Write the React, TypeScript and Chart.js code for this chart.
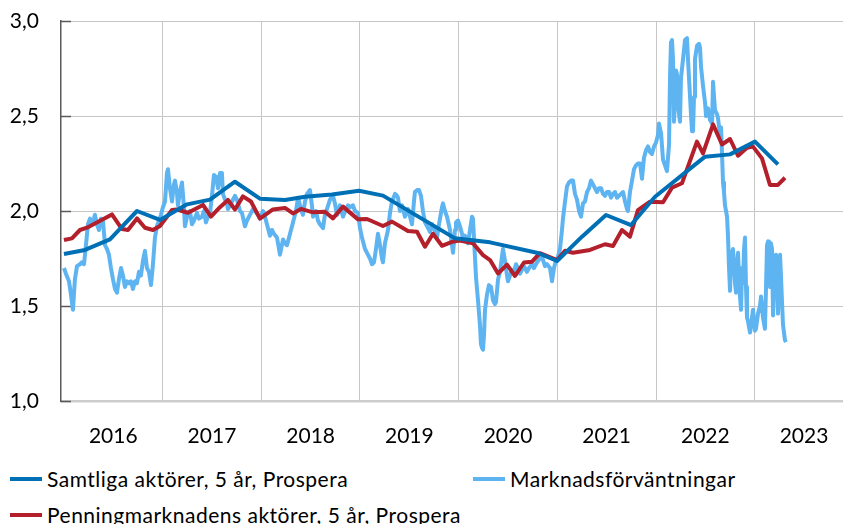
import { useEffect, useRef } from "react";
import { Chart, registerables } from "chart.js";

Chart.register(...registerables);

const FONT = "Lato, 'Open Sans', sans-serif";

// Axis definitions
const xMin = 2015.97;
const xMax = 2023.895;
const yearGridLines = [2017, 2018, 2019, 2020, 2021, 2022, 2023];
const yearLabelPositions = [2016.5, 2017.5, 2018.5, 2019.5, 2020.5, 2021.5, 2022.5, 2023.5];
const yearLabels = ["2016", "2017", "2018", "2019", "2020", "2021", "2022", "2023"];
const yTickValues = [1.0, 1.5, 2.0, 2.5, 3.0];

const seriesNames = [
  "Samtliga aktörer, 5 år, Prospera",
  "Marknadsförväntningar",
  "Penningmarknadens aktörer, 5 år, Prospera",
];
const seriesColors = ["#0070b6", "#5db4f0", "#b41f2c"];

// Samtliga aktörer, 5 år, Prospera  [decimal year, value]
const samtliga: [number, number][] = [
  [2016.0, 1.774], [2016.213, 1.795], [2016.466, 1.851], [2016.74, 2.0], [2016.973, 1.953],
  [2017.247, 2.035], [2017.48, 2.06], [2017.733, 2.154], [2017.986, 2.065],
  [2018.24, 2.058], [2018.443, 2.075], [2018.716, 2.087], [2018.99, 2.107],
  [2019.233, 2.081], [2019.963, 1.856], [2020.318, 1.835], [2020.804, 1.779], [2020.997, 1.737],
  [2021.25, 1.865], [2021.493, 1.979], [2021.747, 1.926], [2021.99, 2.075],
  [2022.497, 2.286], [2022.75, 2.298], [2023.003, 2.365], [2023.236, 2.245],
];

// Penningmarknadens aktörer, 5 år, Prospera
const penning: [number, number][] = [
  [2016.0, 1.847], [2016.081, 1.856], [2016.162, 1.9], [2016.233, 1.912], [2016.486, 1.982],
  [2016.588, 1.905], [2016.649, 1.9], [2016.74, 1.961], [2016.821, 1.912], [2016.902, 1.9],
  [2016.973, 1.921], [2017.095, 2.005], [2017.145, 2.008], [2017.257, 1.991], [2017.409, 2.032],
  [2017.49, 1.97], [2017.581, 2.02], [2017.662, 2.058], [2017.733, 2.008], [2017.814, 2.077],
  [2017.895, 2.05], [2017.986, 1.96], [2018.118, 2.008], [2018.24, 2.016], [2018.321, 1.987],
  [2018.402, 2.011], [2018.524, 1.993], [2018.645, 1.996], [2018.726, 1.961], [2018.828, 2.023],
  [2018.98, 1.956], [2019.071, 1.958], [2019.233, 1.921], [2019.324, 1.944], [2019.486, 1.895],
  [2019.578, 1.891], [2019.659, 1.812], [2019.74, 1.88], [2019.831, 1.817], [2019.932, 1.838],
  [2020.013, 1.844], [2020.145, 1.83], [2020.247, 1.768], [2020.318, 1.742], [2020.399, 1.671],
  [2020.49, 1.718], [2020.571, 1.658], [2020.662, 1.729], [2020.743, 1.733], [2020.824, 1.778],
  [2020.997, 1.742], [2021.078, 1.791], [2021.159, 1.78], [2021.331, 1.795], [2021.483, 1.825],
  [2021.564, 1.816], [2021.655, 1.9], [2021.736, 1.865], [2021.817, 2.005], [2021.939, 2.049],
  [2022.071, 2.046], [2022.162, 2.123], [2022.263, 2.146], [2022.415, 2.365], [2022.476, 2.303],
  [2022.578, 2.456], [2022.669, 2.35], [2022.75, 2.379], [2022.831, 2.291], [2022.922, 2.333],
  [2022.983, 2.339], [2023.074, 2.277], [2023.155, 2.137], [2023.236, 2.137], [2023.307, 2.175],
];

// Marknadsförväntningar
const marknad: [number, number][] = [
  [2016.0, 1.7], [2016.02, 1.67], [2016.051, 1.63], [2016.071, 1.56], [2016.091, 1.48], [2016.111, 1.64],
  [2016.132, 1.71], [2016.162, 1.72], [2016.182, 1.73], [2016.203, 1.72], [2016.223, 1.82], [2016.243, 1.93],
  [2016.264, 1.96], [2016.284, 1.93], [2016.304, 1.96], [2016.314, 1.98], [2016.334, 1.93], [2016.355, 1.9],
  [2016.375, 1.96], [2016.395, 1.95], [2016.416, 1.82], [2016.436, 1.8], [2016.456, 1.77], [2016.476, 1.7],
  [2016.497, 1.64], [2016.517, 1.59], [2016.537, 1.57], [2016.557, 1.64], [2016.578, 1.7], [2016.598, 1.66],
  [2016.618, 1.6], [2016.639, 1.63], [2016.659, 1.62], [2016.679, 1.63], [2016.699, 1.59], [2016.72, 1.63],
  [2016.74, 1.62], [2016.76, 1.68], [2016.78, 1.66], [2016.801, 1.74], [2016.821, 1.79], [2016.841, 1.7],
  [2016.861, 1.68], [2016.882, 1.61], [2016.902, 1.72], [2016.922, 1.86], [2016.943, 1.92], [2016.963, 1.95],
  [2016.983, 1.98], [2017.003, 2.02], [2017.024, 2.05], [2017.044, 2.2], [2017.054, 2.22], [2017.074, 2.12],
  [2017.095, 2.05], [2017.115, 2.14], [2017.125, 2.16], [2017.145, 2.1], [2017.155, 2.03], [2017.176, 2.1],
  [2017.196, 2.15], [2017.216, 2.02], [2017.226, 1.92], [2017.247, 1.97], [2017.277, 2.0], [2017.297, 1.93],
  [2017.318, 1.95], [2017.348, 1.99], [2017.368, 1.96], [2017.399, 1.97], [2017.419, 2.0], [2017.439, 1.94],
  [2017.459, 1.97], [2017.48, 1.99], [2017.5, 2.08], [2017.52, 2.19], [2017.541, 2.18], [2017.561, 2.12],
  [2017.581, 2.2], [2017.601, 2.2], [2017.611, 2.09], [2017.632, 2.06], [2017.652, 2.04], [2017.662, 2.01],
  [2017.682, 2.03], [2017.703, 2.05], [2017.733, 2.08], [2017.753, 2.06], [2017.784, 2.0], [2017.804, 1.99],
  [2017.834, 1.92], [2017.855, 1.95], [2017.885, 1.98], [2017.915, 2.01], [2017.936, 2.0], [2017.966, 1.98],
  [2017.986, 1.96], [2018.017, 2.0], [2018.037, 1.97], [2018.057, 1.93], [2018.088, 1.87], [2018.108, 1.9],
  [2018.128, 1.88], [2018.159, 1.86], [2018.179, 1.8], [2018.189, 1.77], [2018.22, 1.85], [2018.24, 1.83],
  [2018.26, 1.82], [2018.291, 1.88], [2018.321, 1.94], [2018.351, 2.0], [2018.372, 2.07], [2018.392, 2.03],
  [2018.422, 1.98], [2018.443, 2.05], [2018.463, 2.09], [2018.493, 2.11], [2018.513, 2.03], [2018.524, 1.97],
  [2018.554, 2.0], [2018.574, 1.95], [2018.594, 1.93], [2018.625, 1.91], [2018.645, 1.98], [2018.665, 2.01],
  [2018.696, 2.06], [2018.726, 2.08], [2018.746, 2.04], [2018.767, 1.98], [2018.797, 2.03], [2018.817, 1.99],
  [2018.828, 1.97], [2018.858, 2.01], [2018.878, 2.03], [2018.899, 2.02], [2018.929, 2.03], [2018.949, 2.0],
  [2018.98, 1.99], [2019.0, 1.91], [2019.02, 1.86], [2019.051, 1.8], [2019.071, 1.78], [2019.101, 1.75],
  [2019.122, 1.72], [2019.142, 1.73], [2019.162, 1.8], [2019.182, 1.88], [2019.203, 1.82], [2019.223, 1.75],
  [2019.233, 1.73], [2019.253, 1.83], [2019.284, 1.9], [2019.304, 1.99], [2019.324, 2.05], [2019.355, 2.09],
  [2019.375, 2.08], [2019.385, 2.07], [2019.405, 2.0], [2019.426, 2.03], [2019.456, 1.97], [2019.476, 2.0],
  [2019.486, 2.01], [2019.507, 1.97], [2019.527, 1.93], [2019.547, 2.05], [2019.557, 2.1], [2019.578, 2.11],
  [2019.598, 2.11], [2019.618, 2.08], [2019.638, 2.0], [2019.659, 1.94], [2019.679, 1.92], [2019.709, 1.89],
  [2019.73, 1.93], [2019.75, 1.91], [2019.78, 1.86], [2019.801, 1.93], [2019.811, 1.96], [2019.831, 2.02],
  [2019.841, 2.04], [2019.861, 2.0], [2019.882, 1.97], [2019.912, 1.9], [2019.932, 1.82], [2019.943, 1.78],
  [2019.963, 1.9], [2019.973, 1.94], [2019.993, 1.95], [2020.013, 1.92], [2020.034, 1.88], [2020.044, 1.85],
  [2020.064, 1.87], [2020.084, 1.84], [2020.094, 1.83], [2020.115, 1.9], [2020.135, 1.97], [2020.145, 1.96],
  [2020.165, 1.76], [2020.176, 1.65], [2020.196, 1.53], [2020.216, 1.4], [2020.226, 1.3], [2020.236, 1.28],
  [2020.247, 1.27], [2020.257, 1.35], [2020.267, 1.48], [2020.287, 1.56], [2020.307, 1.61], [2020.328, 1.6],
  [2020.348, 1.53], [2020.368, 1.51], [2020.378, 1.52], [2020.399, 1.64], [2020.419, 1.68], [2020.439, 1.76],
  [2020.449, 1.8], [2020.469, 1.74], [2020.49, 1.66], [2020.5, 1.63], [2020.52, 1.66], [2020.54, 1.69],
  [2020.561, 1.68], [2020.581, 1.72], [2020.601, 1.7], [2020.622, 1.67], [2020.642, 1.69], [2020.662, 1.71],
  [2020.692, 1.68], [2020.713, 1.7], [2020.743, 1.72], [2020.763, 1.7], [2020.794, 1.73], [2020.824, 1.75],
  [2020.844, 1.76], [2020.875, 1.71], [2020.895, 1.72], [2020.926, 1.7], [2020.946, 1.63], [2020.966, 1.7],
  [2020.986, 1.74], [2021.007, 1.76], [2021.027, 1.8], [2021.047, 1.9], [2021.057, 1.96], [2021.078, 2.05],
  [2021.098, 2.13], [2021.118, 2.15], [2021.138, 2.16], [2021.159, 2.16], [2021.179, 2.09], [2021.199, 2.06],
  [2021.22, 2.0], [2021.24, 1.97], [2021.26, 2.04], [2021.28, 2.05], [2021.301, 2.1], [2021.321, 2.12],
  [2021.341, 2.16], [2021.361, 2.14], [2021.382, 2.12], [2021.402, 2.1], [2021.422, 2.12], [2021.443, 2.12],
  [2021.463, 2.09], [2021.483, 2.08], [2021.503, 2.1], [2021.524, 2.1], [2021.544, 2.07], [2021.564, 2.09],
  [2021.584, 2.1], [2021.605, 2.07], [2021.625, 2.08], [2021.645, 2.09], [2021.666, 2.1], [2021.686, 2.05],
  [2021.706, 2.01], [2021.716, 2.0], [2021.736, 2.1], [2021.757, 2.16], [2021.777, 2.22], [2021.797, 2.24],
  [2021.817, 2.25], [2021.838, 2.25], [2021.858, 2.17], [2021.878, 2.28], [2021.899, 2.32], [2021.919, 2.34],
  [2021.939, 2.31], [2021.959, 2.3], [2021.98, 2.34], [2022.0, 2.36], [2022.02, 2.4], [2022.03, 2.46],
  [2022.051, 2.41], [2022.071, 2.27], [2022.091, 2.24], [2022.111, 2.21], [2022.132, 2.35], [2022.142, 2.7],
  [2022.152, 2.89], [2022.162, 2.9], [2022.172, 2.8], [2022.182, 2.47], [2022.203, 2.74], [2022.213, 2.72],
  [2022.223, 2.55], [2022.243, 2.47], [2022.253, 2.7], [2022.274, 2.8], [2022.294, 2.9], [2022.314, 2.91],
  [2022.324, 2.8], [2022.345, 2.6], [2022.355, 2.5], [2022.365, 2.42], [2022.375, 2.42], [2022.385, 2.6],
  [2022.395, 2.8], [2022.416, 2.87], [2022.436, 2.88], [2022.446, 2.86], [2022.456, 2.76], [2022.476, 2.66],
  [2022.497, 2.57], [2022.507, 2.5], [2022.527, 2.54], [2022.547, 2.48], [2022.568, 2.46], [2022.578, 2.68],
  [2022.588, 2.6], [2022.598, 2.53], [2022.618, 2.51], [2022.628, 2.49], [2022.649, 2.4], [2022.659, 2.44],
  [2022.669, 2.3], [2022.679, 2.15], [2022.689, 2.1], [2022.699, 2.03], [2022.72, 1.97], [2022.73, 1.86],
  [2022.74, 1.7], [2022.75, 1.58], [2022.76, 1.74], [2022.77, 1.78], [2022.78, 1.8], [2022.801, 1.62],
  [2022.811, 1.57], [2022.821, 1.72], [2022.831, 1.78], [2022.851, 1.55], [2022.862, 1.48], [2022.872, 1.7],
  [2022.882, 1.62], [2022.892, 1.8], [2022.902, 1.86], [2022.912, 1.6], [2022.922, 1.44], [2022.932, 1.42],
  [2022.953, 1.36], [2022.963, 1.4], [2022.983, 1.48], [2023.003, 1.37], [2023.013, 1.38], [2023.034, 1.46],
  [2023.054, 1.5], [2023.064, 1.55], [2023.084, 1.44], [2023.104, 1.38], [2023.115, 1.6], [2023.125, 1.82],
  [2023.135, 1.84], [2023.145, 1.82], [2023.155, 1.6], [2023.165, 1.83], [2023.176, 1.8], [2023.186, 1.45],
  [2023.196, 1.6], [2023.216, 1.77], [2023.226, 1.7], [2023.236, 1.46], [2023.246, 1.6], [2023.257, 1.77],
  [2023.267, 1.65], [2023.277, 1.52], [2023.287, 1.4], [2023.307, 1.32], [2023.317, 1.31],
];

const toPoints = (arr: [number, number][]) => arr.map(([x, y]) => ({ x, y }));

const innerTicks = {
  id: "innerTicks",
  beforeDatasetsDraw(chart: any) {
    const y = chart.scales.y;
    const { ctx, chartArea } = chart;
    ctx.save();
    ctx.strokeStyle = "#5a5a5a";
    ctx.lineWidth = 1.5;
    y.ticks.forEach((t: any) => {
      const py = Math.round(y.getPixelForValue(t.value)) + 0.5;
      ctx.beginPath();
      ctx.moveTo(chartArea.left, py);
      ctx.lineTo(chartArea.left + 10, py);
      ctx.stroke();
    });
    ctx.restore();
  },
};

export default function App() {
  const canvasRef = useRef<HTMLCanvasElement | null>(null);

  useEffect(() => {
    if (!canvasRef.current) return;
    const chart = new Chart(canvasRef.current, {
      type: "line",
      data: {
        datasets: [
          {
            label: seriesNames[0],
            data: toPoints(samtliga),
            borderColor: seriesColors[0],
            borderWidth: 4,
            pointRadius: 0,
            order: 0,
          },
          {
            label: seriesNames[2],
            data: toPoints(penning),
            borderColor: seriesColors[2],
            borderWidth: 4,
            pointRadius: 0,
            order: 1,
          },
          {
            label: seriesNames[1],
            data: toPoints(marknad),
            borderColor: seriesColors[1],
            borderWidth: 4,
            pointRadius: 0,
            order: 2,
          },
        ],
      },
      options: {
        animation: false,
        responsive: false,
        events: [],
        layout: { padding: { top: 21, left: 0, right: 0, bottom: 0 } },
        elements: {
          line: { tension: 0, borderJoinStyle: "round", borderCapStyle: "butt" },
        },
        plugins: { legend: { display: false }, tooltip: { enabled: false } },
        scales: {
          x: {
            type: "linear",
            position: "bottom",
            min: xMin,
            max: xMax,
            afterBuildTicks: (s: any) => {
              s.ticks = yearGridLines.map((v) => ({ value: v }));
            },
            afterFit: (s: any) => {
              s.height = 0;
            },
            ticks: { display: false },
            grid: { color: "#c6c6c6", lineWidth: 1, drawTicks: false },
            border: { color: "#cdcdcd", width: 2.5 },
          },
          xLabels: {
            type: "linear",
            position: "bottom",
            min: xMin,
            max: xMax,
            afterBuildTicks: (s: any) => {
              s.ticks = yearLabelPositions.map((v) => ({ value: v }));
            },
            afterFit: (s: any) => {
              s.height = 59;
              s.paddingLeft = 0;
              s.paddingRight = 0;
            },
            grid: { display: false, drawTicks: false },
            border: { display: false },
            ticks: {
              autoSkip: false,
              maxRotation: 0,
              padding: 23,
              color: "#000",
              font: { family: FONT, size: 21 },
              callback: (_v: any, i: number) => yearLabels[i],
            },
          },
          y: {
            type: "linear",
            min: 1,
            max: 3,
            afterBuildTicks: (s: any) => {
              s.ticks = yTickValues.map((v) => ({ value: v }));
            },
            afterFit: (s: any) => {
              s.width = 61;
              s.paddingTop = 0;
              s.paddingBottom = 0;
            },
            grid: { color: "#c6c6c6", lineWidth: 1, drawTicks: false },
            border: { color: "#5a5a5a", width: 1.5 },
            ticks: {
              padding: 22,
              color: "#000",
              font: { family: FONT, size: 21 },
              callback: (v: any) => Number(v).toFixed(1).replace(".", ","),
            },
          },
        },
      },
      plugins: [innerTicks],
    } as any);
    return () => chart.destroy();
  }, []);

  const legendItem = (idx: number, left: number, top: number) => (
    <div
      key={idx}
      style={{
        position: "absolute",
        left,
        top,
        height: 30,
        display: "flex",
        alignItems: "center",
        whiteSpace: "nowrap",
      }}
    >
      <span
        style={{
          display: "inline-block",
          width: 32,
          height: 4,
          background: seriesColors[idx],
          marginRight: 5,
        }}
      />
      <span
        style={{
          fontFamily: FONT,
          fontSize: 21,
          letterSpacing: "0.5px",
          color: "#000",
          lineHeight: "30px",
        }}
      >
        {seriesNames[idx]}
      </span>
    </div>
  );

  return (
    <div
      style={{
        position: "absolute",
        left: 0,
        top: 0,
        width: 843,
        height: 524,
        overflow: "hidden",
        background: "#fff",
      }}
    >
      <canvas ref={canvasRef} width={843} height={460} style={{ display: "block" }} />
      {legendItem(0, 10, 464)}
      {legendItem(1, 473, 464)}
      {legendItem(2, 10, 500)}
    </div>
  );
}
